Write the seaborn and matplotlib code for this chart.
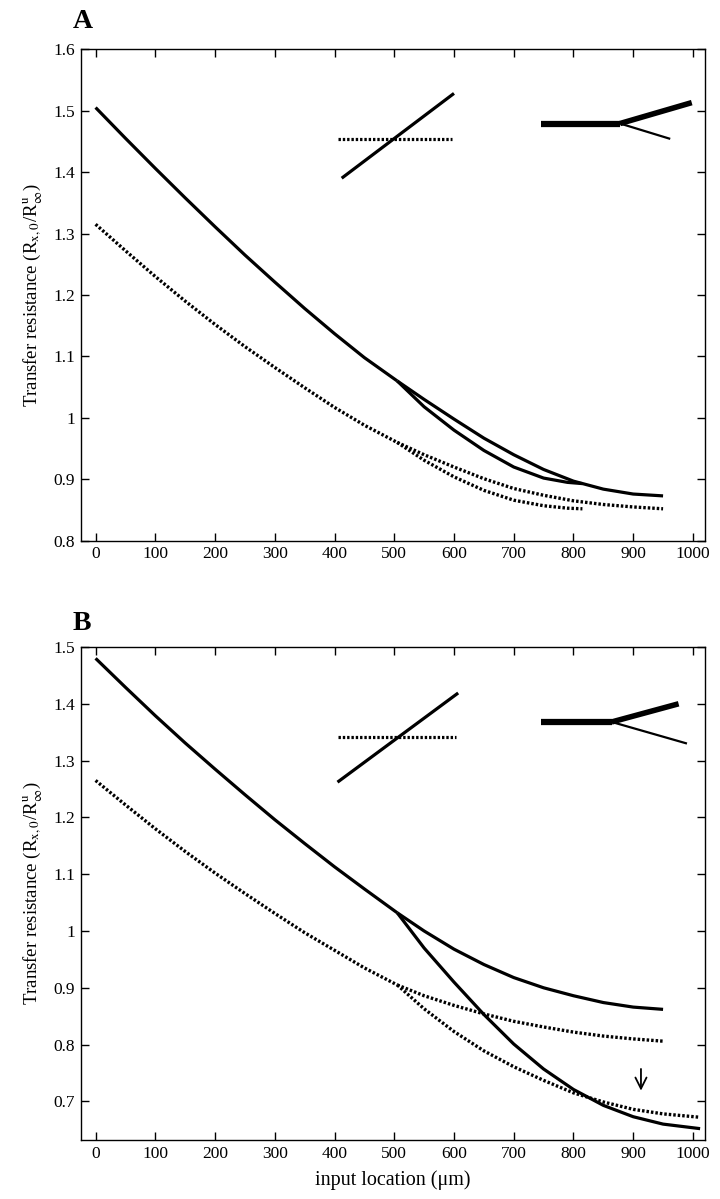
import numpy as np
import pandas as pd
import matplotlib
matplotlib.use("Agg")
import matplotlib.pyplot as plt
import seaborn as sns
from matplotlib.ticker import FormatStrFormatter

# ---- panel A values ----
a_main_x = [0, 50, 100, 150, 200, 250, 300, 350, 400, 450, 505]
a_solid_main = [1.505, 1.455, 1.406, 1.358, 1.311, 1.265, 1.221, 1.178, 1.137, 1.098, 1.060]
a_dot_main = [1.315, 1.272, 1.230, 1.190, 1.152, 1.116, 1.082, 1.049, 1.017, 0.988, 0.960]

a_long_x = [505, 550, 600, 650, 700, 750, 800, 850, 900, 950]
a_solid_long = [1.060, 1.030, 0.998, 0.967, 0.940, 0.916, 0.897, 0.884, 0.876, 0.873]
a_dot_long = [0.960, 0.940, 0.920, 0.901, 0.885, 0.874, 0.865, 0.859, 0.855, 0.852]

a_short_x = [505, 550, 600, 650, 700, 750, 790, 815]
a_solid_short = [1.060, 1.018, 0.980, 0.947, 0.920, 0.902, 0.895, 0.893]
a_dot_short = [0.960, 0.931, 0.904, 0.882, 0.866, 0.857, 0.853, 0.852]

# ---- panel B values ----
b_main_x = [0, 50, 100, 150, 200, 250, 300, 350, 400, 450, 505]
b_solid_main = [1.480, 1.429, 1.379, 1.331, 1.285, 1.240, 1.196, 1.154, 1.113, 1.074, 1.032]
b_dot_main = [1.265, 1.222, 1.180, 1.140, 1.102, 1.066, 1.031, 0.997, 0.966, 0.935, 0.905]

b_up_x = [505, 550, 600, 650, 700, 750, 800, 850, 900, 950]
b_solid_up = [1.032, 1.000, 0.968, 0.941, 0.918, 0.900, 0.886, 0.874, 0.866, 0.862]
b_dot_up = [0.905, 0.886, 0.869, 0.854, 0.841, 0.831, 0.822, 0.815, 0.810, 0.806]

b_down_x = [505, 550, 600, 650, 700, 750, 800, 850, 900, 950, 1012]
b_solid_down = [1.032, 0.970, 0.910, 0.853, 0.801, 0.757, 0.721, 0.693, 0.673, 0.660, 0.652]
b_dot_down = [0.905, 0.863, 0.823, 0.789, 0.761, 0.737, 0.715, 0.699, 0.686, 0.678, 0.672]

# ---- schematic insets (data coords) ----
a_diag = ([412, 600], [1.390, 1.528])
a_horiz = ([406, 597], [1.454, 1.454])
a_trunk = ([745, 878], [1.479, 1.479])
a_thick = ([878, 998], [1.479, 1.513])
a_thin = ([878, 962], [1.479, 1.454])

b_diag = ([405, 607], [1.262, 1.419])
b_horiz = ([406, 603], [1.341, 1.341])
b_trunk = ([745, 864], [1.368, 1.368])
b_thick = ([864, 976], [1.368, 1.400])
b_thin = ([864, 990], [1.368, 1.330])

x_ticks = list(range(0, 1001, 100))
a_yticks = [0.8, 0.9, 1.0, 1.1, 1.2, 1.3, 1.4, 1.5, 1.6]
b_yticks = [0.7, 0.8, 0.9, 1.0, 1.1, 1.2, 1.3, 1.4, 1.5]

sns.set_theme(style="ticks")
plt.rcParams["font.family"] = ["Liberation Serif", "DejaVu Serif"]
plt.rcParams["mathtext.fontset"] = "stix"
plt.rcParams["text.color"] = "black"
plt.rcParams["axes.labelcolor"] = "black"

DOT = (0, (0.75, 0.6))
LW = 2.3


def curve(ax, x, y, dotted=False):
    df = pd.DataFrame({"x": x, "y": y})
    kw = dict(color="black", lw=LW, solid_capstyle="butt", solid_joinstyle="round")
    if dotted:
        kw.update(linestyle=DOT, dash_capstyle="butt", lw=2.4)
    sns.lineplot(data=df, x="x", y="y", ax=ax, sort=False, estimator=None, **kw)


def inset(ax, diag, horiz, trunk, thick, thin):
    ax.plot(*diag, color="black", lw=2.3, solid_capstyle="butt")
    ax.plot(*horiz, color="black", lw=2.3, linestyle=DOT, dash_capstyle="butt")
    ax.plot(*trunk, color="black", lw=4.5, solid_capstyle="butt")
    ax.plot(*thick, color="black", lw=4.0, solid_capstyle="butt")
    ax.plot(*thin, color="black", lw=1.6, solid_capstyle="butt")


def style(ax, ylim, yticks):
    ax.set_xlim(-25, 1020)
    ax.set_ylim(*ylim)
    ax.set_xticks(x_ticks)
    ax.set_yticks(yticks)
    ax.yaxis.set_major_formatter(FormatStrFormatter("%g"))
    ax.tick_params(direction="in", length=6, width=1, top=True, right=True,
                   labeltop=False, labelright=False, labelsize=12.5, pad=4,
                   colors="black")
    for s in ax.spines.values():
        s.set_linewidth(1.0)
        s.set_color("black")
    ax.set_xlabel("")
    ax.set_ylabel(r"Transfer resistance (R$_{\rm x,0}$/R$^{\rm u}_{\infty}$)",
                  fontsize=13.5, labelpad=6)


fig = plt.figure(figsize=(7.2, 11.99), dpi=100)
ax1 = fig.add_axes([0.112, 0.549, 0.867, 0.410])
ax2 = fig.add_axes([0.112, 0.0492, 0.867, 0.4112])

curve(ax1, a_main_x, a_solid_main)
curve(ax1, a_long_x, a_solid_long)
curve(ax1, a_short_x, a_solid_short)
curve(ax1, a_main_x, a_dot_main, dotted=True)
curve(ax1, a_long_x, a_dot_long, dotted=True)
curve(ax1, a_short_x, a_dot_short, dotted=True)
inset(ax1, a_diag, a_horiz, a_trunk, a_thick, a_thin)
style(ax1, (0.8, 1.6), a_yticks)

curve(ax2, b_main_x, b_solid_main)
curve(ax2, b_up_x, b_solid_up)
curve(ax2, b_down_x, b_solid_down)
curve(ax2, b_main_x, b_dot_main, dotted=True)
curve(ax2, b_up_x, b_dot_up, dotted=True)
curve(ax2, b_down_x, b_dot_down, dotted=True)
inset(ax2, b_diag, b_horiz, b_trunk, b_thick, b_thin)
style(ax2, (0.632, 1.5), b_yticks)
ax2.annotate("", xy=(913, 0.714), xytext=(913, 0.762),
             arrowprops=dict(arrowstyle="->", lw=1.3, color="black",
                             mutation_scale=20))
ax2.set_xlabel("input location (\u03bcm)", fontsize=14.5, labelpad=6)

fig.text(0.101, 1 - 22 / 1199, "A", fontsize=20, fontweight="bold",
         ha="left", va="center", color="black")
fig.text(0.101, 1 - 623 / 1199, "B", fontsize=20, fontweight="bold",
         ha="left", va="center", color="black")

fig.savefig("out.png", dpi=100)
